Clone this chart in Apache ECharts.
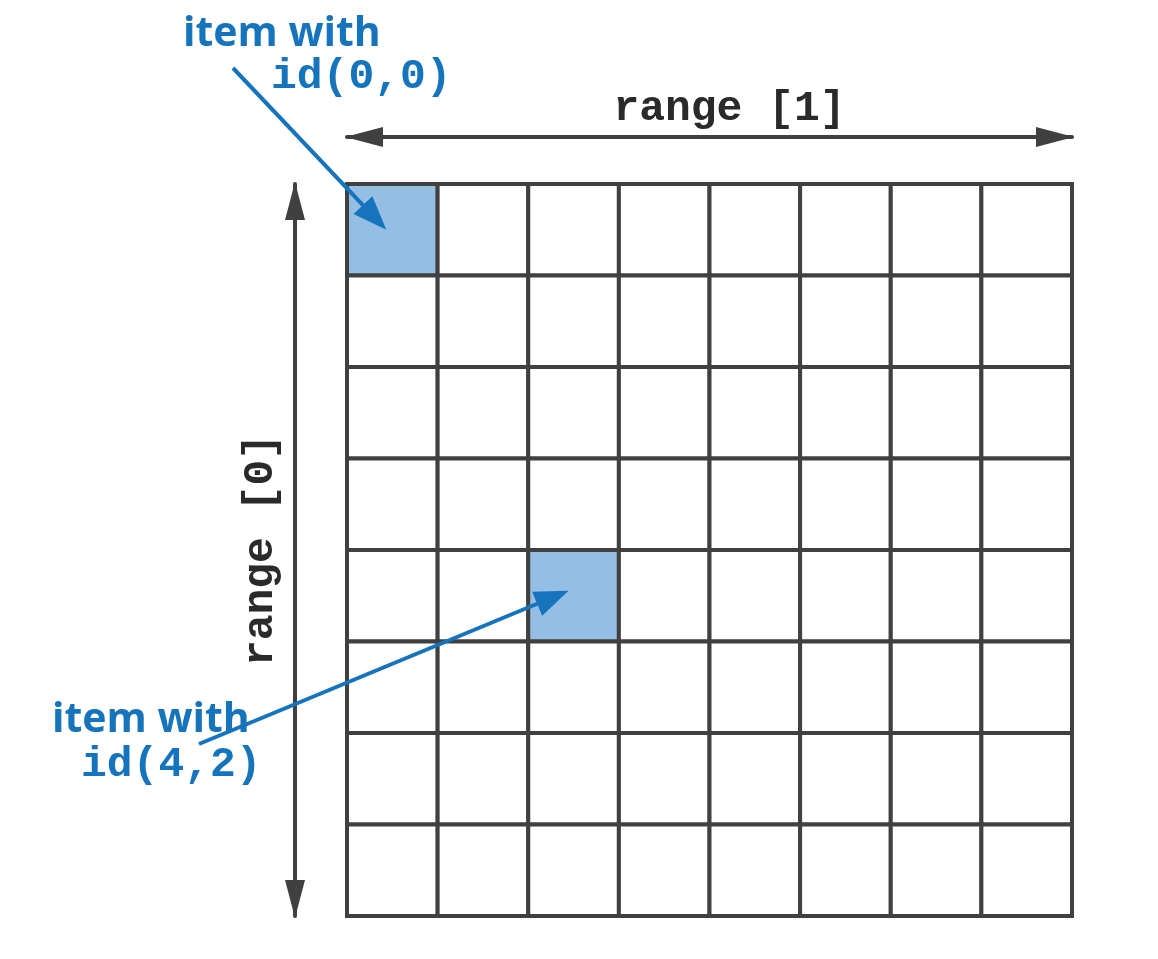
<!DOCTYPE html>
<html>
<head>
<meta charset="utf-8">
<script src="https://cdn.jsdelivr.net/npm/echarts@6/dist/echarts.min.js"></script>
<style>
  html, body { margin: 0; padding: 0; background: #fff; }
  #chart { width: 1158px; height: 959px; }
</style>
</head>
<body>
<div id="chart"></div>
<script>
// grid of items, indexed by range [0] (rows) and range [1] (columns)
const rowIds = ['0', '1', '2', '3', '4', '5', '6', '7'];
const colIds = ['0', '1', '2', '3', '4', '5', '6', '7'];
// highlighted items as [row, col]
const highlighted = [[0, 0], [4, 2]];
const axisNames = ['range [0]', 'range [1]'];

const dark = '#404040';
const blue = '#1574bc';
const cellFill = '#94bee3';

let cells = [];
for (let r = 0; r < rowIds.length; r++) {
  for (let c = 0; c < colIds.length; c++) {
    let hit = highlighted.some(h => h[0] === r && h[1] === c) ? 1 : 0;
    cells.push([c, r, hit]);
  }
}

function renderCell(params, api) {
  let center = api.coord([api.value(0), api.value(1)]);
  let size = api.size([1, 1]);
  return {
    type: 'rect',
    shape: {
      x: center[0] - size[0] / 2,
      y: center[1] - size[1] / 2,
      width: size[0],
      height: size[1]
    },
    style: {
      fill: api.value(2) ? cellFill : '#fff',
      stroke: dark,
      lineWidth: 4
    }
  };
}

let chart = echarts.init(document.getElementById('chart'));

const monoBold = {
  color: '#2a2a2a',
  fontFamily: '"Liberation Mono", "DejaVu Sans Mono", monospace',
  fontWeight: 'bold',
  fontSize: 43
};

// axis lines with a triangle head at both ends, tips at the line ends
const arrowLine = {
  show: true,
  symbol: ['triangle', 'triangle'],
  symbolSize: [20, 38],
  symbolOffset: [17, -17],
  lineStyle: { color: dark, width: 4 }
};

chart.setOption({
  animation: false,
  backgroundColor: '#fff',
  grid: { left: 347, top: 184, width: 725, height: 732 },
  xAxis: {
    type: 'category',
    data: colIds,
    position: 'top',
    offset: 47,
    name: axisNames[1],
    nameLocation: 'middle',
    nameGap: 6,
    nameTextStyle: Object.assign({ padding: [0, 0, 0, 40] }, monoBold),
    axisLine: arrowLine,
    axisTick: { show: false },
    axisLabel: { show: false },
    splitLine: { show: false }
  },
  yAxis: {
    type: 'category',
    data: rowIds,
    inverse: true,
    position: 'left',
    offset: 52,
    name: axisNames[0],
    nameLocation: 'middle',
    nameGap: 12,
    nameTextStyle: monoBold,
    axisLine: arrowLine,
    axisTick: { show: false },
    axisLabel: { show: false },
    splitLine: { show: false }
  },
  series: [{
    type: 'custom',
    renderItem: renderCell,
    data: cells,
    silent: true
  }]
});

// annotation arrows pointing at the highlighted items
function arrow(from, to) {
  let dx = to[0] - from[0], dy = to[1] - from[1];
  let len = Math.sqrt(dx * dx + dy * dy);
  let ux = dx / len, uy = dy / len;
  let headLen = 34, headHalf = 13;
  let base = [to[0] - ux * headLen, to[1] - uy * headLen];
  return [
    {
      type: 'line', z: 100,
      shape: { x1: from[0], y1: from[1], x2: base[0] + ux * 2, y2: base[1] + uy * 2 },
      style: { stroke: blue, lineWidth: 4 }
    },
    {
      type: 'polygon', z: 100,
      shape: {
        points: [
          to,
          [base[0] - uy * headHalf, base[1] + ux * headHalf],
          [base[0] + uy * headHalf, base[1] - ux * headHalf]
        ]
      },
      style: { fill: blue }
    }
  ];
}

const sansBold = '"Open Sans", "DejaVu Sans", sans-serif';
let tip0 = chart.convertToPixel({ seriesIndex: 0 }, [highlighted[0][1], highlighted[0][0]]);
let tip1 = chart.convertToPixel({ seriesIndex: 0 }, [highlighted[1][1], highlighted[1][0]]);

let graphics = []
  .concat(arrow([233, 68], [tip0[0] - 6, tip0[1]]))
  .concat(arrow([199, 744], [tip1[0] - 5, tip1[1] - 5]))
  .concat([
    {
      type: 'text', left: 183, top: 14, z: 100,
      style: { text: 'item with', fill: blue, font: 'bold 41px ' + sansBold }
    },
    {
      type: 'text', left: 271, top: 56, z: 100,
      style: { text: 'id(' + highlighted[0].join(',') + ')', fill: blue,
        font: 'bold 43px "Liberation Mono", monospace' }
    },
    {
      type: 'text', left: 52, top: 700, z: 100,
      style: { text: 'item with', fill: blue, font: 'bold 41px ' + sansBold }
    },
    {
      type: 'text', left: 81, top: 744, z: 100,
      style: { text: 'id(' + highlighted[1].join(',') + ')', fill: blue,
        font: 'bold 43px "Liberation Mono", monospace' }
    }
  ]);

chart.setOption({ graphic: graphics });
</script>
</body>
</html>
